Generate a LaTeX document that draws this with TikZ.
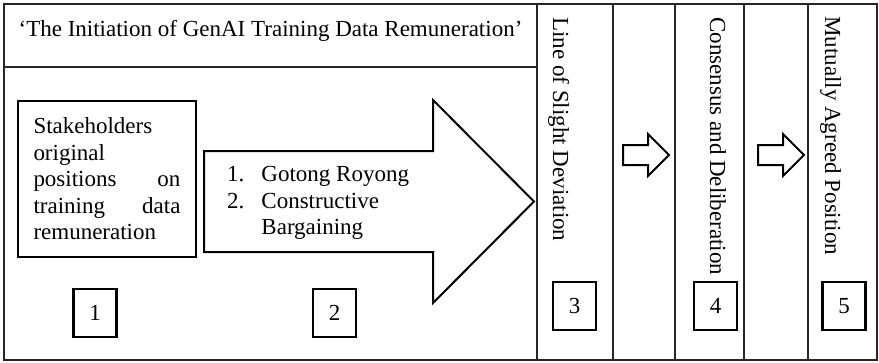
\documentclass[tikz,border=0pt]{standalone}
\usepackage{fontspec}
\setmainfont{Liberation Serif}
\usepackage{tikz}

\tikzset{
  txt/.style={inner sep=0pt,font=\fontsize{23}{26.5}\selectfont},
  numbox/.style={txt,draw,line width=2.2pt,minimum width=43pt,minimum height=48pt},
  fatarrow/.style={line width=2pt,line join=miter},
  grid/.style={line width=1.1pt,black!85}
}

\begin{document}
\begin{tikzpicture}[x=1pt,y=-1pt]
   \useasboundingbox (0,0) rectangle (879,362);
   % table lines
   \draw[grid] (4,4) rectangle (877,360);
   \draw[grid] (4,67) -- (537,67);
   \foreach \x in {537,613,675,744,808}
      \draw[grid] (\x,4) -- (\x,360);
   % title row
   \node[txt,anchor=base] (title) at (270.5,36.5) {‘The Initiation of GenAI Training Data Remuneration’};
   % stage 1 and 2
   \node[txt,draw,line width=2.2pt,text width=147pt,inner xsep=15.5pt,align=justify,minimum height=156pt] (origpos) at (107,179)
      {Stakeholders\\ original\\ positions\hfill on\\ training\hfill data\\ remuneration};
   \draw[fatarrow] (204,151) -- (433,151) -- (433,100) -- (534,201.5) -- (433,303) -- (433,252) -- (204,252) -- cycle;
   \node[txt,anchor=base west] (methods) at (227,181.7)
      {\begin{tabular}[t]{@{}l@{\hspace{17pt}}l@{}}1.&Gotong Royong\\2.&Constructive\\&Bargaining\end{tabular}};
   % stages 3 to 5
   \node[txt,rotate=-90,anchor=base west] (slight) at (553,17) {Line of Slight Deviation};
   \node[txt,rotate=-90,anchor=base west] (consensus) at (710,17) {Consensus and Deliberation};
   \node[txt,rotate=-90,anchor=base west] (agreed) at (825,16) {Mutually Agreed Position};
   \foreach \x in {623,758}
      \draw[fatarrow] (\x,145) -- ++(25,0) -- ++(0,-11) -- ++(21,21) -- ++(-21,21) -- ++(0,-11) -- ++(-25,0) -- cycle;
   % numbers
   \node[numbox] (n1) at (95,313) {1};
   \node[numbox] (n2) at (334.5,313) {2};
   \node[numbox] (n3) at (574.5,306) {3};
   \node[numbox] (n4) at (715.5,306) {4};
   \node[numbox] (n5) at (844,306) {5};
\end{tikzpicture}
\end{document}
